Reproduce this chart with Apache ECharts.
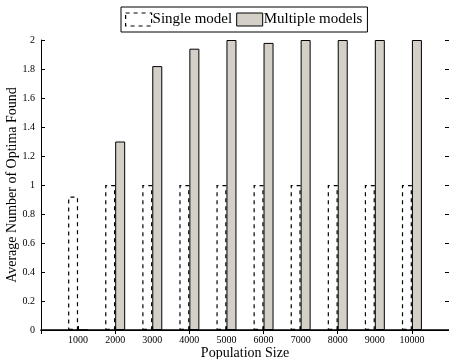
<!DOCTYPE html>
<html><head><meta charset="utf-8">
<script src="https://cdn.jsdelivr.net/npm/echarts@6/dist/echarts.min.js"></script>
<style>html,body{margin:0;padding:0;background:#fff}#c{width:449px;height:359px}</style>
</head><body><div id="c"></div>
<script>
const categories = ['', '1000', '2000', '3000', '4000', '5000', '6000', '7000', '8000', '9000', '10000', ''];
const singleModel = [null, 0.92, 1, 1, 1, 1, 1, 1, 1, 1, 1, null];
const multipleModels = [null, 0, 1.3, 1.82, 1.94, 2, 1.98, 2, 2, 2, 2, null];
const yTicks = { min: 0, max: 2, interval: 0.2 };

const font = 'Liberation Serif, Times New Roman, serif';
const chart = echarts.init(document.getElementById('c'));
chart.setOption({
  animation: false,
  textStyle: { fontFamily: font, color: '#000' },
  grid: { left: 41, right: 0, top: 40, bottom: 29, containLabel: false, outerBoundsMode: 'none' },
  legend: {
    top: 7, left: 121, icon: 'rect',
    itemWidth: 26, itemHeight: 13, itemGap: 4,
    borderColor: '#000', borderWidth: 1, padding: [5, 5, 5, 4],
    textStyle: { fontFamily: font, fontSize: 15, color: '#000', padding: [0, 0, 0, -4] },
    data: [
      { name: 'Single model', itemStyle: { color: '#fff', borderColor: '#000', borderWidth: 1.2, borderType: [4, 4] } },
      { name: 'Multiple models', itemStyle: { color: '#d4d0c8', borderColor: '#000', borderWidth: 1 } }
    ]
  },
  xAxis: [{
    type: 'category', data: categories, boundaryGap: false,
    name: 'Population Size', nameLocation: 'middle', nameGap: 16, nameMoveOverlap: false,
    nameTextStyle: { fontFamily: font, fontSize: 14, color: '#000' },
    axisLine: { lineStyle: { color: '#000', width: 1.5 } },
    axisTick: { inside: true, length: 4, lineStyle: { color: '#000' } },
    axisLabel: { fontFamily: font, fontSize: 10, color: '#000', margin: 5, interval: 0 },
    splitLine: { show: false }
  }, {
    type: 'category', data: categories, boundaryGap: false, position: 'top',
    axisLine: { lineStyle: { color: '#000', width: 1 } },
    axisTick: { inside: true, length: 4, lineStyle: { color: '#000' } },
    axisLabel: { show: false }, splitLine: { show: false }
  }],
  yAxis: [{
    type: 'value', min: yTicks.min, max: yTicks.max, interval: yTicks.interval,
    name: 'Average Number of Optima Found', nameLocation: 'middle', nameGap: 22, nameMoveOverlap: false,
    nameTextStyle: { fontFamily: font, fontSize: 14, color: '#000' },
    axisLine: { show: true, lineStyle: { color: '#000', width: 1 } },
    axisTick: { show: true, inside: true, length: 4, lineStyle: { color: '#000' } },
    axisLabel: { fontFamily: font, fontSize: 10, color: '#000', margin: 6 },
    splitLine: { show: false }
  }, {
    type: 'value', min: yTicks.min, max: yTicks.max, interval: yTicks.interval, position: 'right',
    axisLine: { show: true, lineStyle: { color: '#000', width: 1 } },
    axisTick: { show: true, inside: true, length: 4, lineStyle: { color: '#000' } },
    axisLabel: { show: false }, splitLine: { show: false }
  }],
  series: [{
    name: 'Single model', type: 'bar', data: singleModel, barWidth: 10, barGap: '0%',
    itemStyle: { color: 'rgba(255,255,255,0)', borderColor: '#000', borderWidth: 1.2, borderType: [4, 4] }
  }, {
    name: 'Multiple models', type: 'bar', data: multipleModels, barWidth: 10, barGap: '0%',
    itemStyle: { color: '#d4d0c8', borderColor: '#000', borderWidth: 1 }
  }]
});
</script></body></html>
